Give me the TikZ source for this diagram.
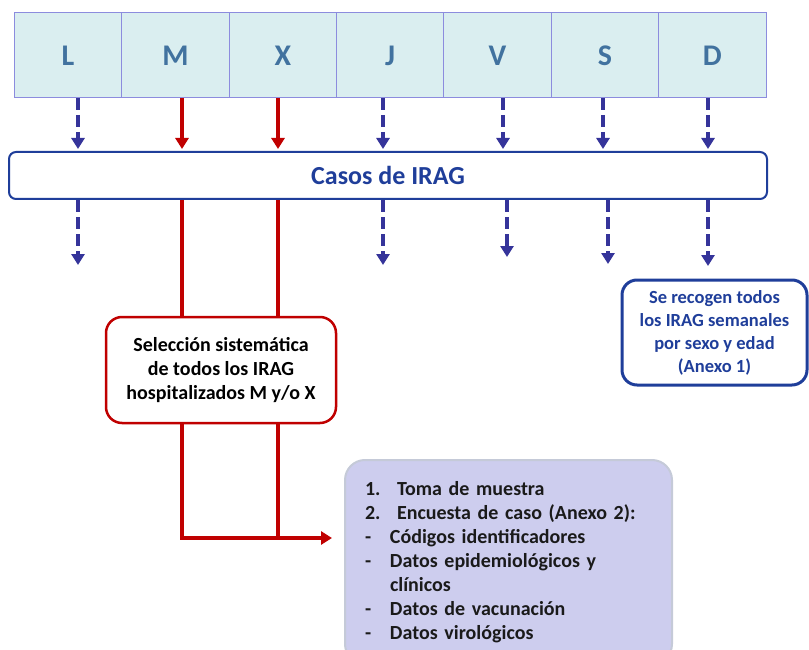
\documentclass[tikz,border=0pt]{standalone}
\usepackage{fontspec}
\setmainfont{Carlito}
\usepackage{tikz}
\usetikzlibrary{calc}
\usetikzlibrary{arrows.meta}
\usetikzlibrary{positioning}

\definecolor{dayfill}{HTML}{DAEEF0}
\definecolor{dayline}{HTML}{8C8CDE}
\definecolor{dayletter}{HTML}{41729F}
\definecolor{irblue}{HTML}{1F3E9A}
\definecolor{dashblue}{HTML}{35349A}
\definecolor{selred}{HTML}{C00000}
\definecolor{lavfill}{HTML}{CDCDEE}
\definecolor{lavline}{HTML}{C5CAD8}
\definecolor{lavtext}{HTML}{1A1A1A}

\begin{document}
\begin{tikzpicture}[x=1pt,y=-1pt,
    day/.style={draw=dayline,fill=dayfill,line width=1pt,outer sep=0pt,inner sep=0pt,
      minimum width=107.4pt,minimum height=85pt,text=dayletter,
      font=\fontsize{30}{30}\selectfont\bfseries},
    casosbox/.style={draw=irblue,line width=2pt,rounded corners=7pt,fill=white,
      minimum width=758pt,minimum height=47pt,text=irblue,
      font=\fontsize{26}{30}\selectfont\bfseries},
    selbox/.style={draw=selred,line width=2.5pt,rounded corners=16pt,fill=white,
      minimum width=230pt,minimum height=106pt,align=center,text=black,
      font=\fontsize{20}{24}\selectfont\bfseries},
    weekbox/.style={draw=irblue,line width=3pt,rounded corners=15pt,fill=white,
      minimum width=185pt,minimum height=105pt,align=center,text=irblue,
      font=\fontsize{18.5}{23}\selectfont\bfseries},
    lavbox/.style={draw=lavline,line width=2pt,rounded corners=20pt,fill=lavfill,
      text width=287pt,inner xsep=20pt,minimum height=204pt,align=left,text=lavtext,
      font=\fontsize{20}{24}\selectfont\bfseries},
    dashdown/.style={draw=dashblue,line width=4.5pt,dash pattern=on 12pt off 5pt,
      -{Triangle[length=11pt,width=13pt]}},
    reddown/.style={draw=selred,line width=4pt,-{Triangle[length=11pt,width=13pt]}},
    redline/.style={draw=selred,line width=4pt}]
  \useasboundingbox (0,0) rectangle (809,650);

  % days of the week
  \node[day] (dL) at (68,55.5) {L};
  \node[day,right=0pt of dL] (dM) {M};
  \node[day,right=0pt of dM] (dX) {X};
  \node[day,right=0pt of dX] (dJ) {J};
  \node[day,right=0pt of dJ] (dV) {V};
  \node[day,right=0pt of dV] (dS) {S};
  \node[day,right=0pt of dS] (dD) {D};

  \node[casosbox] (casos) at (388,175.5) {Casos de IRAG};
  \node[selbox] (sel) at (221,370) {Selección sistemática\\de todos los IRAG\\hospitalizados M y/o X};
  \node[weekbox] (week) at (714.5,332.5) {Se recogen todos\\los IRAG semanales\\por sexo y edad\\(Anexo 1)};
  \node[lavbox] (lav) at (508.5,562) {\makebox[32pt][l]{1.}Toma de muestra\\
    \makebox[32pt][l]{2.}Encuesta de caso (Anexo 2):\\
    \makebox[25pt][l]{-}Códigos identificadores\\
    \makebox[25pt][l]{-}Datos epidemiológicos y\\
    \hspace*{25pt}clínicos\\
    \makebox[25pt][l]{-}Datos de vacunación\\
    \makebox[25pt][l]{-}Datos virológicos};

  % columns
  \coordinate (cL) at (78,0);
  \coordinate (cM) at (182,0);
  \coordinate (cX) at (278,0);
  \coordinate (cJ) at (383,0);
  \coordinate (cV) at (503,0);
  \coordinate (cS) at (603,0);
  \coordinate (cD) at (708,0);
  \coordinate (eL) at (78,265);
  \coordinate (eJ) at (383,265);
  \coordinate (eV) at (507,257);
  \coordinate (eS) at (608,264);
  \coordinate (eD) at (708,266);
  \coordinate (jM) at (182,538);
  \coordinate (jX) at (278,538);

  \draw[dashdown] (dL.south -| cL) -- ([yshift=2pt]casos.north -| cL);
  \draw[reddown] (dM.south -| cM) -- ([yshift=2pt]casos.north -| cM);
  \draw[reddown] (dX.south -| cX) -- ([yshift=2pt]casos.north -| cX);
  \draw[dashdown] (dJ.south -| cJ) -- ([yshift=2pt]casos.north -| cJ);
  \draw[dashdown] (dV.south -| cV) -- ([yshift=2pt]casos.north -| cV);
  \draw[dashdown] (dS.south -| cS) -- ([yshift=2pt]casos.north -| cS);
  \draw[dashdown] (dD.south -| cD) -- ([yshift=2pt]casos.north -| cD);

  \draw[dashdown] (casos.south -| eL) -- (eL);
  \draw[dashdown] (casos.south -| eJ) -- (eJ);
  \draw[dashdown] (casos.south -| eV) -- (eV);
  \draw[dashdown] (casos.south -| eS) -- (eS);
  \draw[dashdown] (casos.south -| eD) -- (eD);

  \draw[redline] (casos.south -| cM) -- (sel.north -| cM);
  \draw[redline] (casos.south -| cX) -- (sel.north -| cX);
  \draw[reddown,shorten >=12pt] (sel.south -| cM) -- (jM) -- (lav.west |- jM);
  \draw[redline] (sel.south -| cX) -- (jX);
\end{tikzpicture}
\end{document}
